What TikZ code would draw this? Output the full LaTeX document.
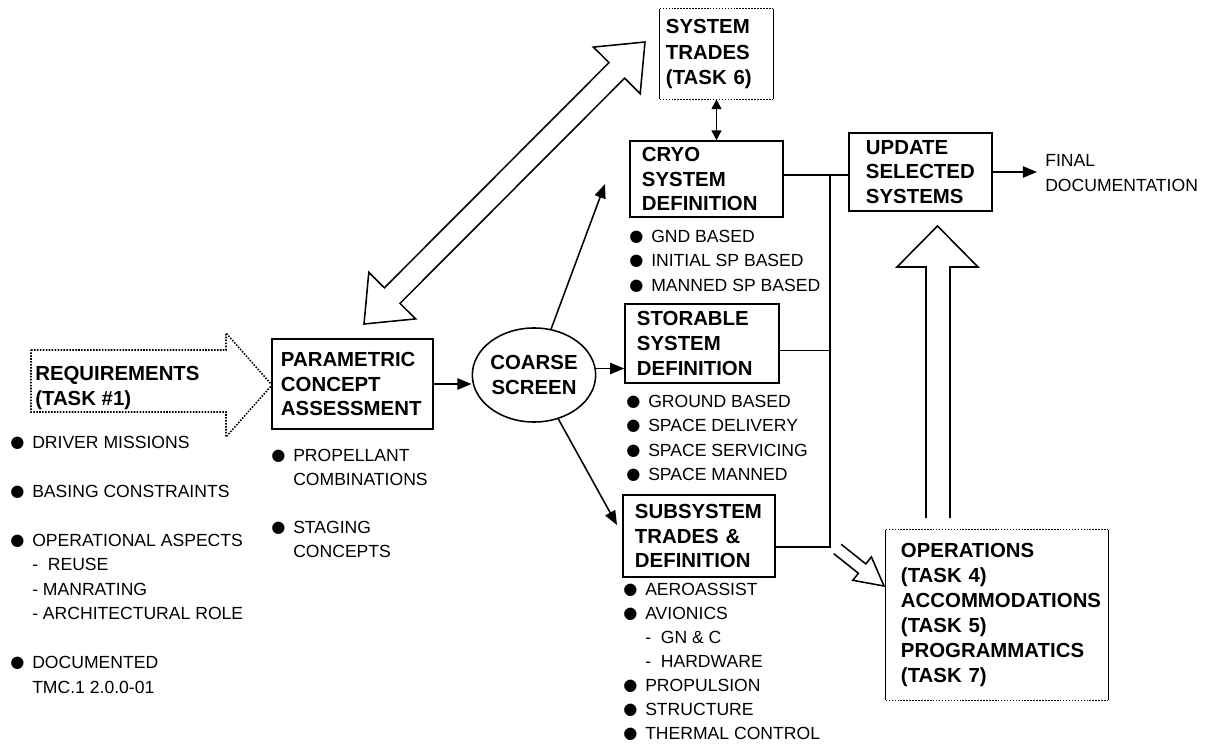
\documentclass[tikz,border=0pt]{standalone}
\usepackage{fontspec}
\setmainfont{Liberation Sans}
\newfontfamily\symfont{DejaVu Sans}
\usetikzlibrary{shapes.geometric,   % ellipse
           arrows.meta,             % fleches Triangle
           calc,
           positioning}
\newcommand{\bul}{\makebox[1.25em][l]{\raisebox{0.05em}[0pt][0pt]{\symfont\fontsize{11.5}{11.5}\selectfont ●}}}
\newcommand{\ind}{\hspace*{1.25em}}
\tikzset{
  blk/.style={draw, line width=1.1pt, align=left, inner sep=0pt, font=\fontsize{14.5}{17.5}\selectfont\bfseries},
  tbox/.style={align=left, inner sep=0pt, font=\fontsize{14.5}{17.8}\selectfont\bfseries},
  lst/.style={align=left, inner sep=0pt, anchor=north west, font=\fontsize{12.5}{17.4}\selectfont},
  arr/.style={line width=1.1pt, -{Triangle[length=10pt,width=8pt]}},
  lin/.style={line width=1.1pt},
  hollow/.style={line width=1.1pt, line join=miter},
}

\begin{document}
\begin{tikzpicture}[x=0.025cm,y=-0.025cm]
\useasboundingbox (0,0) rectangle (1213,749);

% requirements
\draw[densely dotted, line width=1.1pt](31,350)--(226,350)--(226,333)--(272,385)--(226,437)--(226,412)--(31,412)--cycle;
\node[tbox, anchor=north west](req)at(35,366){REQUIREMENTS\\(TASK \#1)};
\node[lst](reqlist)at(10,435.5){\bul DRIVER MISSIONS\\[17.5pt]
  \bul BASING CONSTRAINTS\\[17.5pt]
  \bul OPERATIONAL ASPECTS\\
  \ind-\ \ REUSE\\
  \ind- MANRATING\\
  \ind- ARCHITECTURAL ROLE\\[17.5pt]
  \bul DOCUMENTED\\
  \ind TMC.1 2.0.0-01};

% blocs
\node[blk, minimum width=4.025cm, minimum height=2.25cm, text width=3.575cm](param)at(352.5,384){PARAMETRIC\\CONCEPT\\ASSESSMENT};
\node[lst](plist)at(271,448.7){\bul PROPELLANT\\ \ind COMBINATIONS\\[16.5pt] \bul STAGING\\ \ind CONCEPTS};
\node[draw, ellipse, line width=1.1pt, minimum width=2.825cm, minimum height=2.35cm, inner sep=0pt, align=center,
      font=\fontsize{14.5}{17.5}\selectfont\bfseries](coarse)at(534,375){COARSE\\SCREEN};

\node[blk, minimum width=3.825cm, minimum height=1.9cm, text width=3.225cm](cryo)at(706.5,179){CRYO\\SYSTEM\\DEFINITION};
\node[lst](clist)at(629,229.7){\bul GND BASED\\ \bul INITIAL SP BASED\\ \bul MANNED SP BASED};
\node[blk, minimum width=3.85cm, minimum height=1.975cm, text width=3.25cm](stor)at(702,343.5){STORABLE\\SYSTEM\\DEFINITION};
\node[lst](slist)at(626,394.7){\bul GROUND BASED\\ \bul SPACE DELIVERY\\ \bul SPACE SERVICING\\ \bul SPACE MANNED};
\node[blk, minimum width=3.8cm, minimum height=2.05cm, text width=3.2cm](subsys)at(699,536){SUBSYSTEM\\TRADES \&\\DEFINITION};
\node[lst, font=\fontsize{12.5}{17.1}\selectfont](sublist)at(623,582.7){\bul AEROASSIST\\ \bul AVIONICS\\ \ind-\ \ GN \& C\\ \ind-\ \ HARDWARE\\
  \bul PROPULSION\\ \bul STRUCTURE\\ \bul THERMAL CONTROL};

\node[blk, minimum width=3.575cm, minimum height=1.95cm, text width=2.725cm](update)at(920.5,172){UPDATE\\SELECTED\\SYSTEMS};
\node[anchor=west, inner xsep=0.2cm, inner ysep=0pt, align=left, font=\fontsize{12.5}{17.5}\selectfont](final)at(1037,173){FINAL\\DOCUMENTATION};

\node[tbox, minimum width=2.825cm, minimum height=2.25cm, text width=2.525cm](trades)at(716.5,54){SYSTEM\\TRADES\\(TASK 6)};
\draw[lin](trades.north west)--(trades.south west)(trades.north east)--(trades.south east);
\draw[lin, densely dotted](trades.north west)--(trades.north east)(trades.south west)--(trades.south east);

\node[tbox, minimum width=5.55cm, minimum height=4.25cm, text width=4.8cm](ops)at(997,615){OPERATIONS\\(TASK 4)\\ACCOMMODATIONS\\(TASK 5)\\PROGRAMMATICS\\(TASK 7)};
\draw[lin](ops.north west)--(ops.south west)(ops.north east)--(ops.south east);
\draw[lin, densely dotted](ops.north west)--(ops.north east)(ops.south west)--(ops.south east);

% liaisons
\coordinate(cryoin)at(605,184);
\coordinate(subin)at(617,525);
\coordinate(bus)at(830,0);
\draw[arr](param.east)--(param.east -| coarse.west);
\draw[arr](coarse.6)--(coarse.6 -| stor.west);
\draw[arr](coarse)--(cryoin);
\draw[arr](coarse)--(subin);
\draw[lin](cryo.3)--(cryo.3 -| update.west);
\draw[lin](stor.-5)--(stor.-5 -| bus);
\draw[lin](subsys.-8)--(subsys.-8 -| bus)--(bus |- cryo.3);
\draw[arr](update.east)--(update.east -| final.west);
\draw[line width=1.3pt, {Triangle[length=7pt,width=7pt]}-{Triangle[length=7pt,width=7pt]}](trades.south)--(trades.south |- cryo.north);

% fleches creuses
\draw[hollow](364,324)--(415.6,318.9)--(400,303.4)--(624.6,78.2)--(640.2,93.7)--(645,42)--(593.4,47.1)--(609,62.6)--(384.4,287.8)--(368.8,272.3)--cycle;
\draw[hollow](926,518)--(926,267)--(897,267)--(937.5,226)--(978,267)--(950,267)--(950,518);
\draw[hollow](833.8,553.7)--(858.4,573.3)--(852.8,580.3)--(884,586)--(871.4,556.9)--(865.8,563.9)--(841.2,544.3);
\end{tikzpicture}
\end{document}
